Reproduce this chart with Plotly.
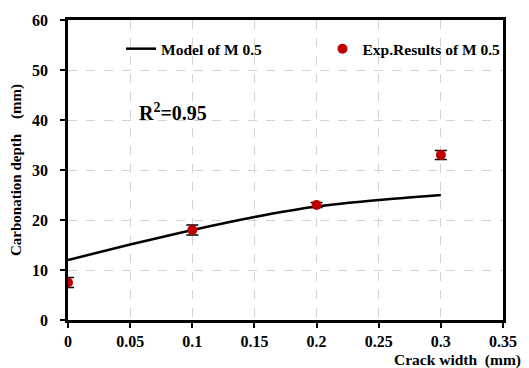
import plotly.graph_objects as go

model_x = [0, 0.05, 0.1, 0.15, 0.2, 0.25, 0.3]
model_y = [12.0, 15.1, 18.0, 20.6, 22.7, 24.0, 25.0]

exp_x = [0, 0.1, 0.2, 0.3]
exp_y = [7.5, 18.0, 23.0, 33.0]
exp_err = [1.0, 1.0, 0.5, 0.9]

x_ticks = [0, 0.05, 0.1, 0.15, 0.2, 0.25, 0.3, 0.35]
x_tick_text = ["0", "0.05", "0.1", "0.15", "0.2", "0.25", "0.3", "0.35"]
y_ticks = [0, 10, 20, 30, 40, 50, 60]
y_tick_text = ["0", "10", "20", "30", "40", "50", "60"]

FONT = "Liberation Serif"

fig = go.Figure()
fig.add_trace(go.Scatter(
    x=model_x, y=model_y, mode="lines", name="<b>Model of M 0.5</b>",
    line=dict(color="black", width=2.5, shape="spline", smoothing=0.6),
    legend="legend",
))
fig.add_trace(go.Scatter(
    x=exp_x, y=exp_y, mode="markers", name="<b>Exp.Results of M 0.5</b>",
    marker=dict(color="#C00000", size=10),
    error_y=dict(type="data", array=exp_err, visible=True, color="black",
                 thickness=1.5, width=6),
    legend="legend2",
))

axis_common = dict(
    showline=True, linecolor="black", linewidth=2.5, mirror=True,
    ticks="outside", ticklen=5, tickcolor="black", tickwidth=1.5,
    showgrid=True, gridcolor="#D3D3D3", griddash="dash", gridwidth=1.2,
    zeroline=False,
    tickfont=dict(family=FONT, size=16, color="black"),
)

fig.update_xaxes(range=[0, 0.35], tickvals=x_ticks,
                 ticktext=["<b>%s</b>" % t for t in x_tick_text],
                 ticklabelstandoff=0, **axis_common)
fig.update_yaxes(range=[0, 60], tickvals=y_ticks,
                 ticktext=["<b>%s</b>" % t for t in y_tick_text],
                 ticklabelstandoff=9,
                 title=dict(text="<b>Carbonation depth    (mm)</b>",
                            font=dict(family=FONT, size=15, color="black"),
                            standoff=7),
                 **axis_common)

fig.add_annotation(
    x=1, y=0, xref="paper", yref="paper", xanchor="right", yanchor="top",
    xshift=19, yshift=-30, showarrow=False, borderpad=0,
    text="<b>Crack width  (mm)</b>",
    font=dict(family=FONT, size=15.5, color="black"),
)
fig.add_annotation(
    x=0.0, y=40, xref="x", yref="y", xanchor="left", yanchor="middle",
    xshift=69, yshift=8, showarrow=False,
    text="<b>R<sup>2</sup>=0.95</b>",
    font=dict(family=FONT, size=20, color="black"),
)

leg_common = dict(yanchor="middle", xanchor="left", y=0.903,
                  bgcolor="rgba(255,255,255,0)",
                  font=dict(family=FONT, size=15.5, color="black"))

fig.update_layout(
    width=529, height=368,
    margin=dict(l=68, r=22, t=12, b=48),
    paper_bgcolor="white", plot_bgcolor="white",
    font=dict(family=FONT, color="black"),
    legend=dict(x=0.122, **leg_common),
    legend2=dict(x=0.585, **leg_common),
    showlegend=True,
)

fig.write_html("out.html")
